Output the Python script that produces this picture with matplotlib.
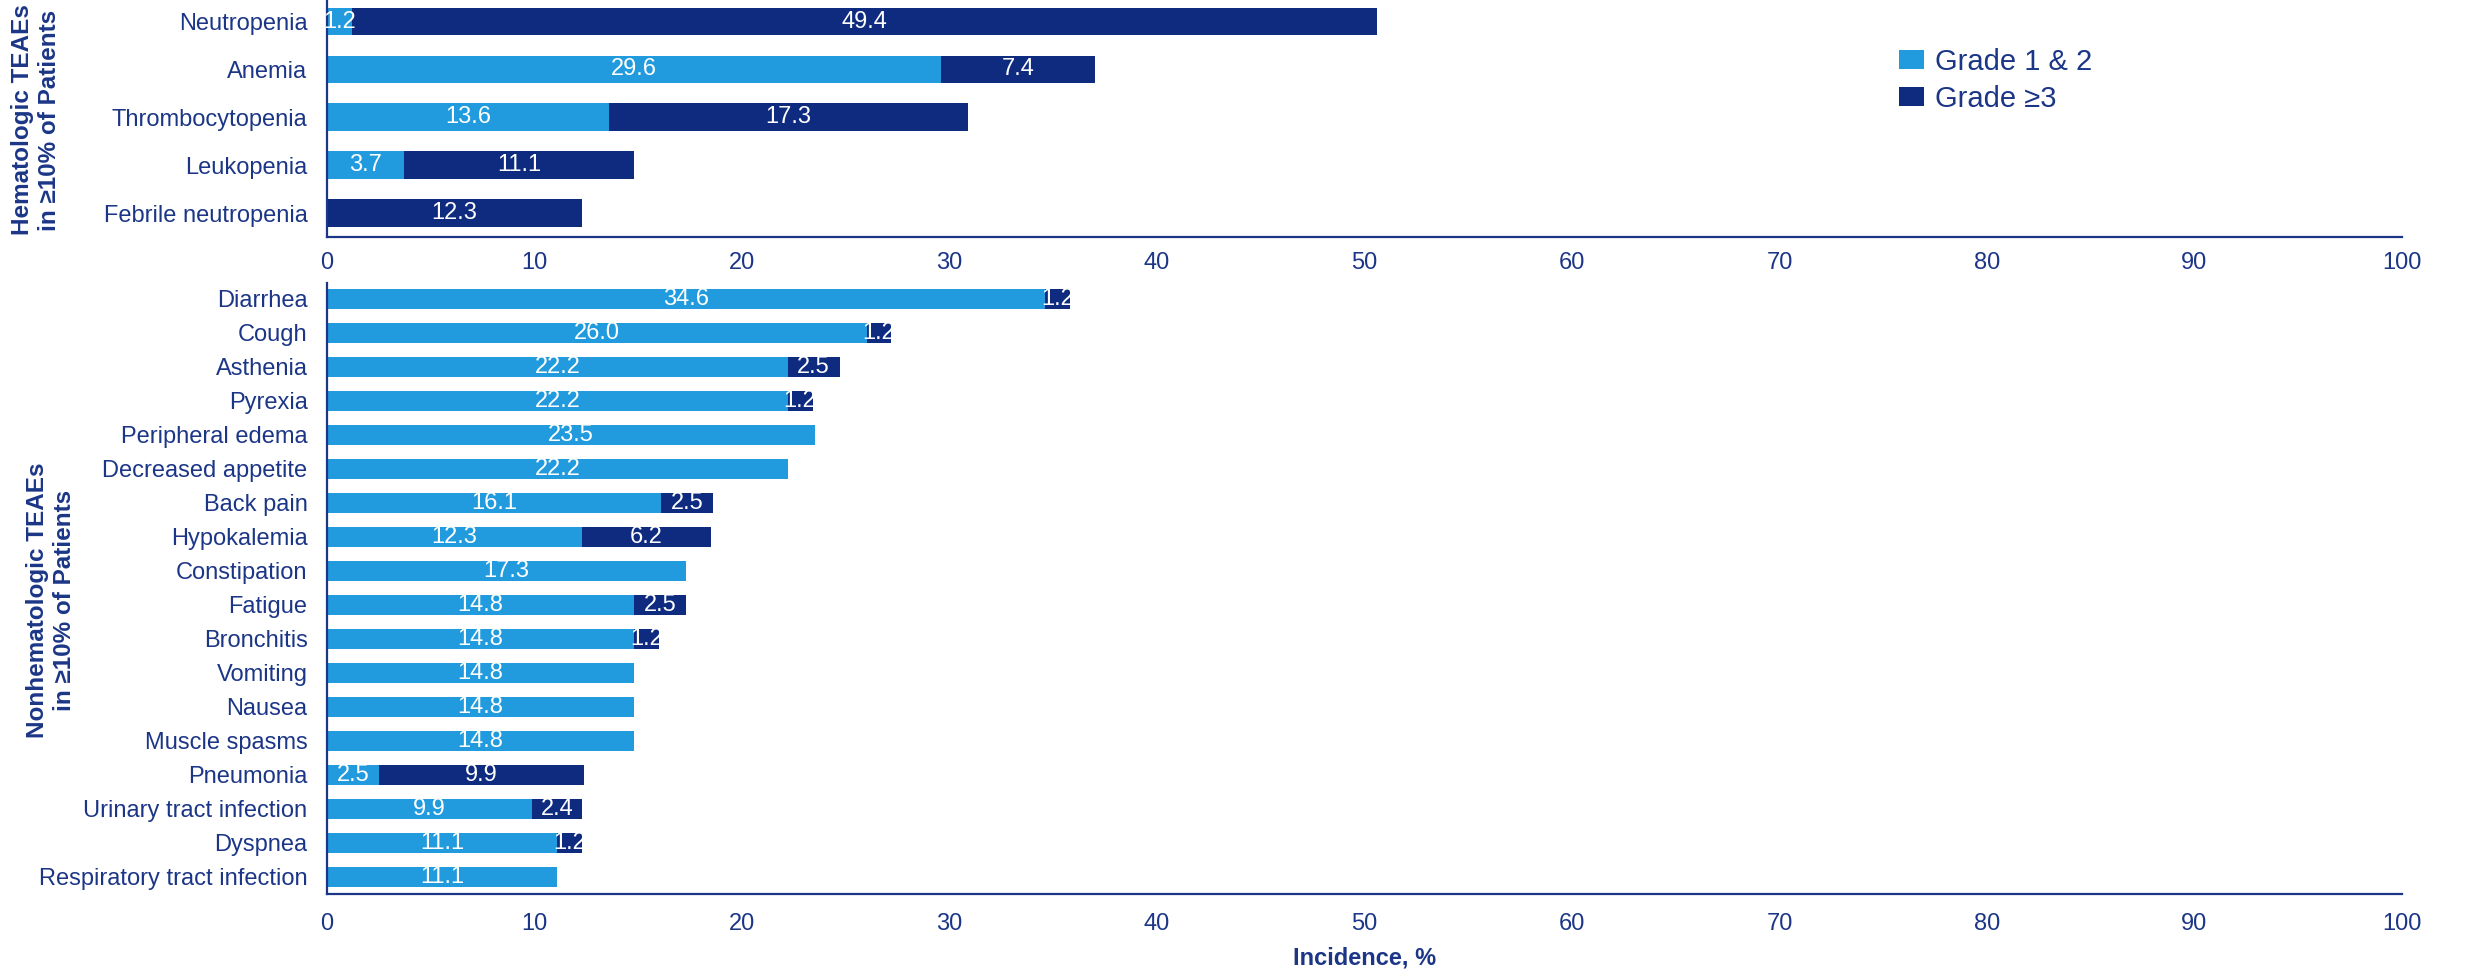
import numpy as np
import matplotlib
matplotlib.use("Agg")
import matplotlib.pyplot as plt

plt.rcParams["font.family"] = ["Liberation Sans", "DejaVu Sans"]

# data (incidence, %)
heme_labels = ["Neutropenia", "Anemia", "Thrombocytopenia", "Leukopenia", "Febrile neutropenia"]
heme_g12 = [1.2, 29.6, 13.6, 3.7, 0.0]
heme_g3 = [49.4, 7.4, 17.3, 11.1, 12.3]

nonheme_labels = ["Diarrhea", "Cough", "Asthenia", "Pyrexia", "Peripheral edema",
                  "Decreased appetite", "Back pain", "Hypokalemia", "Constipation",
                  "Fatigue", "Bronchitis", "Vomiting", "Nausea", "Muscle spasms",
                  "Pneumonia", "Urinary tract infection", "Dyspnea",
                  "Respiratory tract infection"]
nonheme_g12 = [34.6, 26.0, 22.2, 22.2, 23.5, 22.2, 16.1, 12.3, 17.3,
               14.8, 14.8, 14.8, 14.8, 14.8, 2.5, 9.9, 11.1, 11.1]
nonheme_g3 = [1.2, 1.2, 2.5, 1.2, 0.0, 0.0, 2.5, 6.2, 0.0,
              2.5, 1.2, 0.0, 0.0, 0.0, 9.9, 2.4, 1.2, 0.0]

series_names = ["Grade 1 & 2", "Grade \u22653"]
xticks = [0, 10, 20, 30, 40, 50, 60, 70, 80, 90, 100]

LIGHT = "#219bde"
DARK = "#0e2b80"
NAVY = "#1c3687"

W, H = 2465, 969
fig = plt.figure(figsize=(W / 100, H / 100), dpi=100)

left = 327 / W
width = (2402 - 327) / W
ax1 = fig.add_axes([left, 1 - 237 / H, width, 237 / H])
ax2 = fig.add_axes([left, 1 - 894 / H, width, (894 - 283) / H])


def draw(ax, labels, g12, g3, height, ylim, xpad):
    y = np.arange(len(labels))
    ax.barh(y, g12, height=height, color=LIGHT, label=series_names[0])
    ax.barh(y, g3, left=g12, height=height, color=DARK, label=series_names[1])
    for i in range(len(labels)):
        if g12[i] > 0:
            ax.text(g12[i] / 2, y[i], f"{g12[i]:.1f}", color="white",
                    ha="center", va="center", fontsize=17)
        if g3[i] > 0:
            ax.text(g12[i] + g3[i] / 2, y[i], f"{g3[i]:.1f}", color="white",
                    ha="center", va="center", fontsize=17)
    ax.set_yticks(y)
    ax.set_yticklabels(labels)
    ax.set_ylim(*ylim)
    ax.set_xlim(0, 100)
    ax.set_xticks(xticks)
    for s in ["top", "right"]:
        ax.spines[s].set_visible(False)
    for s in ["left", "bottom"]:
        ax.spines[s].set_color(NAVY)
        ax.spines[s].set_linewidth(1.6)
    ax.tick_params(axis="both", length=0, labelsize=17, labelcolor=NAVY)
    ax.tick_params(axis="y", pad=14)
    ax.tick_params(axis="x", pad=xpad)


draw(ax1, heme_labels, heme_g12, heme_g3, 0.58, (4.5, -0.45), 11)
draw(ax2, nonheme_labels, nonheme_g12, nonheme_g3, 0.57, (17.5, -0.47), 14)

ax2.set_xlabel("Incidence, %", fontsize=17, fontweight="bold", color=NAVY, labelpad=8)

fig.text(36 / W, 1 - 120 / H, "Hematologic TEAEs\nin \u226510% of Patients",
         rotation=90, ha="center", va="center", fontsize=17.5, fontweight="bold",
         color=NAVY, linespacing=1.2)
fig.text(51 / W, 1 - 600 / H, "Nonhematologic TEAEs\nin \u226510% of Patients",
         rotation=90, ha="center", va="center", fontsize=17.5, fontweight="bold",
         color=NAVY, linespacing=1.2)

leg = ax1.legend(loc="upper left", bbox_to_anchor=(1899 / W, 1 - 48 / H),
                 bbox_transform=fig.transFigure, frameon=False, fontsize=21,
                 handlelength=0.85, handleheight=0.62, handletextpad=0.4,
                 labelspacing=0.3, borderpad=0, borderaxespad=0)
for t in leg.get_texts():
    t.set_color(NAVY)

fig.savefig("out.png", dpi=100)
